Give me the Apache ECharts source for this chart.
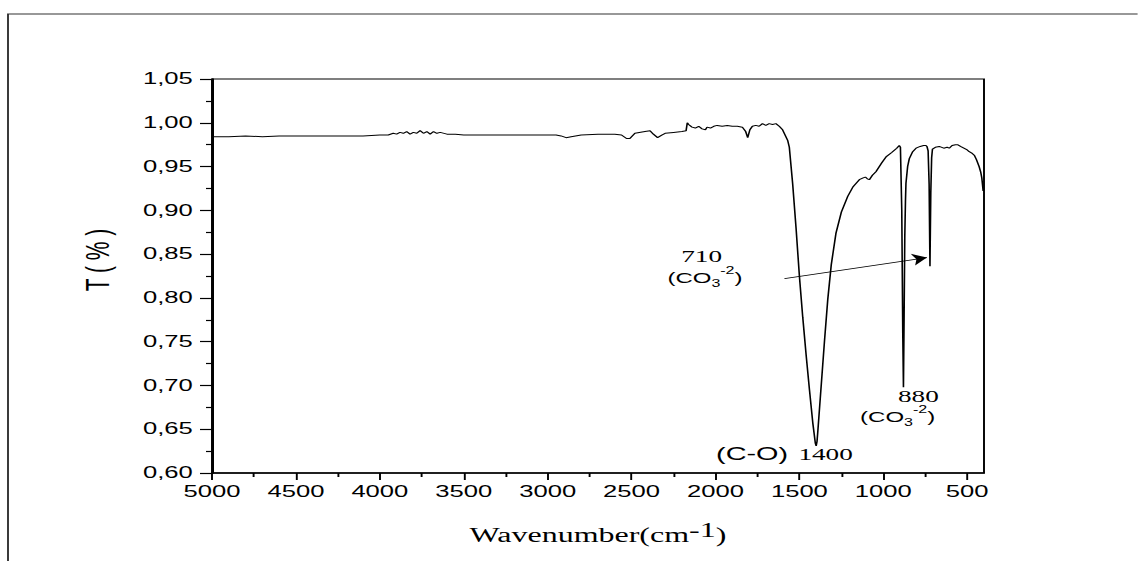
<!DOCTYPE html>
<html><head><meta charset="utf-8">
<script src="https://cdn.jsdelivr.net/npm/echarts@6/dist/echarts.min.js"></script>
<style>
html,body{margin:0;padding:0;background:#fff;overflow:hidden;width:1138px;height:561px;}
#wrap{position:absolute;left:0;top:0;width:711.25px;height:561px;transform:scaleX(1.6);transform-origin:0 0;}
</style></head><body><div id="wrap"></div>
<script>
// FTIR spectrum (wavenumber cm-1, transmittance)
const wavenumbers = [5000,4900,4800,4700,4600,4500,4400,4300,4200,4100,4000,3950,3920,3900,3880,3860,3840,3820,3800,3780,3760,3740,3720,3700,3680,3660,3640,3600,3550,3500,3400,3300,3200,3100,3000,2950,2920,2890,2860,2800,2700,2600,2560,2530,2510,2480,2420,2390,2370,2345,2320,2300,2250,2200,2175,2168,2160,2140,2120,2100,2080,2060,2050,2030,2010,1990,1960,1930,1900,1870,1840,1820,1808,1795,1780,1760,1740,1720,1700,1680,1660,1640,1620,1600,1585,1570,1560,1540,1520,1500,1480,1460,1440,1420,1405,1400,1395,1390,1370,1350,1331,1310,1282,1250,1212,1180,1143,1120,1107,1095,1083,1065,1044,1010,984,950,920,905,898,890,884,880,876,872,868,865,855,845,825,805,780,760,746,740,733,727,722,717,712,707,690,667,640,620,607,590,570,558,540,520,500,488,470,458,445,429,420,413,405];
const transmittance = [0.984,0.984,0.985,0.984,0.985,0.985,0.985,0.985,0.985,0.985,0.986,0.986,0.988,0.987,0.989,0.988,0.990,0.987,0.989,0.988,0.991,0.988,0.990,0.987,0.990,0.988,0.989,0.987,0.987,0.986,0.986,0.986,0.986,0.986,0.986,0.986,0.985,0.983,0.984,0.986,0.987,0.987,0.986,0.982,0.982,0.988,0.990,0.991,0.987,0.983,0.986,0.988,0.989,0.990,0.991,1.000,0.998,0.995,0.994,0.996,0.993,0.992,0.995,0.994,0.996,0.997,0.996,0.997,0.996,0.996,0.995,0.990,0.983,0.992,0.996,0.997,0.996,0.999,0.997,0.999,0.998,0.999,0.996,0.992,0.986,0.980,0.972,0.930,0.880,0.825,0.778,0.735,0.695,0.657,0.634,0.631,0.636,0.648,0.700,0.752,0.798,0.838,0.874,0.898,0.916,0.927,0.935,0.937,0.938,0.936,0.935,0.940,0.944,0.954,0.961,0.966,0.971,0.974,0.972,0.900,0.760,0.698,0.780,0.870,0.910,0.931,0.950,0.959,0.967,0.971,0.973,0.974,0.974,0.973,0.968,0.930,0.836,0.920,0.960,0.970,0.972,0.973,0.971,0.972,0.971,0.974,0.975,0.975,0.973,0.971,0.969,0.967,0.965,0.963,0.958,0.950,0.944,0.937,0.922];
const xTicks = [5000,4500,4000,3500,3000,2500,2000,1500,1000,500];
const xMinorTicks = [4750,4250,3750,3250,2750,2250,1750,1250,750];
const yMin = 0.60, yMax = 1.05, yStep = 0.05;
const arrowStart = [1589, 0.822];
const arrowEnd = [740, 0.846];

const chart = echarts.init(document.getElementById('wrap'), null, {renderer:'svg', width:711.25, height:561});
const sans = 'Liberation Sans, Arial, sans-serif';
const serif = 'Liberation Serif, Times New Roman, serif';
const coRich = {
  n:{fontFamily:sans, fontSize:15, fill:'#000', color:'#000', verticalAlign:'bottom', padding:[0,0,4,0]},
  b:{fontFamily:sans, fontSize:10, fill:'#000', color:'#000', verticalAlign:'bottom'},
  p:{fontFamily:sans, fontSize:10, fill:'#000', color:'#000', verticalAlign:'bottom', padding:[0,0,13,0]}
};
function txt(text, x, y, family, size, va, rich){
  const st = {text:text, fontFamily:family, fontSize:size, fill:'#000', align:'center', textAlign:'center', verticalAlign:va, textVerticalAlign:va};
  if (rich) st.rich = rich;
  return {type:'text', x:x, y:y, style:st, silent:true};
}
chart.setOption({
  animation:false,
  backgroundColor:'#fff',
  grid:{left:132.5, top:79, width:482.5, height:394, show:true, borderColor:'#000', borderWidth:1.2, backgroundColor:'transparent'},
  xAxis:[{
    type:'value', min:400, max:5000, inverse:true, position:'bottom',
    axisLine:{show:true, lineStyle:{color:'#000', width:1.5}},
    axisTick:{show:true, customValues:xTicks, length:7, lineStyle:{color:'#000', width:1.2}},
    axisLabel:{show:true, customValues:xTicks, margin:11, color:'#000', fontFamily:sans, fontSize:16, formatter:function(v){return String(v);}},
    splitLine:{show:false},
    name:'{a|Wavenumber(cm}{s|-1}{a|)}', nameLocation:'middle', nameGap:47,
    nameTextStyle:{fontFamily:serif, fontSize:20, color:'#000',
      rich:{a:{fontFamily:serif, fontSize:20, color:'#000', verticalAlign:'bottom'},
            s:{fontFamily:serif, fontSize:20, color:'#000', verticalAlign:'bottom', padding:[0,0,5,0]}}}
  },{
    type:'value', min:400, max:5000, inverse:true, position:'bottom', gridIndex:0,
    axisLine:{show:false},
    axisTick:{show:true, customValues:xMinorTicks, length:4, lineStyle:{color:'#000', width:1.2}},
    axisLabel:{show:false},
    splitLine:{show:false}
  }],
  yAxis:{
    type:'value', min:yMin, max:yMax, interval:yStep,
    axisLine:{show:true, lineStyle:{color:'#000', width:1.5}},
    axisTick:{show:true, length:7.5, lineStyle:{color:'#000', width:1.2}},
    minorTick:{show:true, splitNumber:2, length:3.75, lineStyle:{color:'#000', width:1.2}},
    axisLabel:{margin:12, color:'#000', fontFamily:sans, fontSize:16, formatter:function(v){return v.toFixed(2).replace('.', ',');}},
    splitLine:{show:false}, minorSplitLine:{show:false}
  },
  series:[{
    type:'line', xAxisIndex:0, yAxisIndex:0,
    data:wavenumbers.map(function(w,i){return [w, transmittance[i]];}),
    showSymbol:false, symbol:'none',
    lineStyle:{color:'#000', width:1},
    markLine:{
      silent:true, animation:false,
      symbol:['none','arrow'], symbolSize:9,
      label:{show:false},
      itemStyle:{color:'#000'},
      lineStyle:{color:'#000', width:1, type:'solid'},
      emphasis:{disabled:true},
      data:[[{coord:arrowStart},{coord:arrowEnd}]]
    }
  }],
  graphic:[
    {type:'rect', shape:{x:5, y:14, width:1000, height:1000}, style:{fill:'none', stroke:'#333', lineWidth:1.2}, silent:true, z:-1},
    {type:'text', x:61, y:260, rotation:Math.PI/2, silent:true,
      style:{text:'T ( % )', fontFamily:sans, fontSize:21, fill:'#000', align:'center', textAlign:'center', verticalAlign:'middle', textVerticalAlign:'middle'}},
    txt('710', 438.5, 256.5, serif, 17, 'middle'),
    txt('{n|(CO}{b|3}{p|-2}{n|)}', 440.6, 289, sans, 15, 'bottom', coRich),
    txt('880', 574, 396, serif, 17, 'middle'),
    txt('{n|(CO}{b|3}{p|-2}{n|)}', 561, 428, sans, 15, 'bottom', coRich),
    txt('(C-O)', 470, 454, sans, 18, 'middle'),
    txt('1400', 516, 454, serif, 17, 'middle')
  ]
});
</script>
</body></html>
